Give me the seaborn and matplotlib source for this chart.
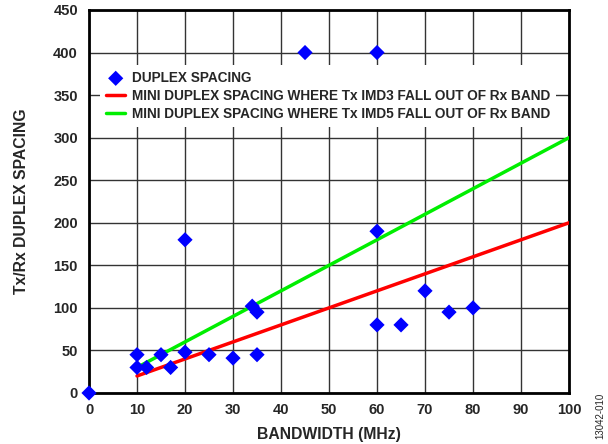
import numpy as np
import pandas as pd
import matplotlib
matplotlib.use("Agg")
import matplotlib.pyplot as plt
import seaborn as sns

# -----------------------------
# DATA
# -----------------------------

bandwidth = [0, 10, 10, 12, 15, 17, 20, 25, 30, 35, 20, 34, 35, 45, 60, 60, 60, 65, 70, 75, 80]
spacing = [0, 45, 30, 30, 45, 30, 48, 45, 41, 45, 180, 102, 95, 400, 400, 190, 80, 80, 120, 95, 100]

imd3_bw = [10, 100]
imd3_spacing = [20, 200]
imd5_bw = [10, 100]
imd5_spacing = [30, 300]

x_ticks = list(range(0, 101, 10))
y_ticks = list(range(0, 451, 50))

# -----------------------------
# PLOT
# -----------------------------

sns.set_style("white")
plt.rcParams["font.family"] = ["Liberation Sans", "DejaVu Sans"]
plt.rcParams["font.weight"] = "bold"

fig = plt.figure(figsize=(6.08, 4.44), dpi=100)
ax = fig.add_axes([0.1464, 0.1149, 0.7895, 0.8626])

df = pd.DataFrame({"bw": bandwidth, "spacing": spacing})

sns.scatterplot(data=df, x="bw", y="spacing", marker="D", s=60, color="#0000FF",
                edgecolor="none", ax=ax, zorder=5, clip_on=False, label="DUPLEX SPACING")
sns.lineplot(x=imd3_bw, y=imd3_spacing, color="#FF0000", linewidth=2.5, ax=ax, zorder=4,
             label="MINI DUPLEX SPACING WHERE Tx IMD3 FALL OUT OF Rx BAND")
sns.lineplot(x=imd5_bw, y=imd5_spacing, color="#00EE00", linewidth=2.5, ax=ax, zorder=4,
             label="MINI DUPLEX SPACING WHERE Tx IMD5 FALL OUT OF Rx BAND")

ax.set_xlim(0, 100)
ax.set_ylim(0, 450)
ax.set_xticks(x_ticks)
ax.set_yticks(y_ticks)
ax.tick_params(axis="x", labelsize=10.5, length=0, pad=7)
ax.tick_params(axis="y", labelsize=10.5, length=0, pad=8)
for lab in ax.get_xticklabels() + ax.get_yticklabels():
    lab.set_fontweight("bold")

ax.grid(True, color="#333333", linewidth=1)
ax.set_axisbelow(True)
for sp in ax.spines.values():
    sp.set_color("black")
    sp.set_linewidth(2)

ax.set_xlabel("BANDWIDTH (MHz)", fontsize=11.3, fontweight="bold")
ax.set_ylabel("Tx/Rx DUPLEX SPACING", fontsize=11.3, fontweight="bold")
ax.xaxis.set_label_coords(0.5, -0.089)
ax.yaxis.set_label_coords(-0.124, 0.5)

leg = ax.legend(loc="upper left", bbox_to_anchor=(0.023, 0.857), borderaxespad=0,
                frameon=True, fancybox=False, edgecolor="none", facecolor="white",
                framealpha=1, prop={"size": 9.8, "weight": "bold"}, handlelength=1.4,
                labelspacing=0.3, borderpad=0.45, handletextpad=0.5)

fig.text(0.987, 0.063, "13042-010", rotation=90, fontsize=7, fontweight="normal",
         ha="center", va="center")

fig.savefig("out.png", dpi=100)
